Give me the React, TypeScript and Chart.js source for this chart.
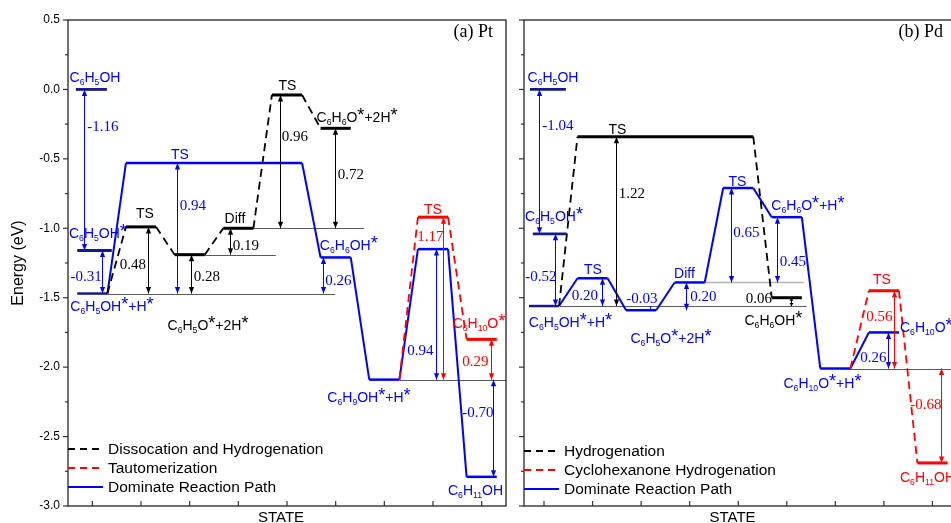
import React, { useEffect, useRef } from "react";
import { Chart, registerables } from "chart.js";

Chart.register(...registerables);

// ---------------- data ----------------
const STATES = [1, 2, 3, 4, 5, 6, 7, 8, 9];
const ENERGY_TICKS = [0.5, 0.0, -0.5, -1.0, -1.5, -2.0, -2.5, -3.0];
const ENERGY_MINOR = [0.25, -0.25, -0.75, -1.25, -1.75, -2.25, -2.75];

// (a) Pt
const ptMainFrom = [1, 2, 6, 7, 8, 9];
const ptMainTo = [1, 5, 6, 7, 8, 9];
const ptMainEnergy = [-1.47, -0.53, -1.21, -2.09, -1.15, -2.79];
const ptMainNames = ["C_6H_5OH^*+H^*", "TS", "C_6H_6OH^*", "C_6H_9OH^*+H^*", "", "C_6H_11OH"];

const ptSideStart = 0;
const ptSideFrom = [2, 3, 4, 5, 6];
const ptSideTo = [2, 3, 4, 5, 6];
const ptSideEnergy = [-0.99, -1.19, -1.0, -0.04, -0.28];
const ptSideNames = ["TS", "C_6H_5O^*+2H^*", "Diff", "TS", "C_6H_6O^*+2H^*"];

const ptAltStart = 3;
const ptAltFrom = [8, 9];
const ptAltTo = [8, 9];
const ptAltEnergy = [-0.92, -1.8];
const ptAltNames = ["TS", "C_6H_10O^*"];

const ptGasNames = ["C_6H_5OH", "C_6H_5OH^*"];
const ptGasEnergy = [0.0, -1.16];
const ptGasFrom = [0.66, 0.69];
const ptGasTo = [1.3, 1.4];

const ptGapText = ["-1.16", "-0.31", "0.48", "0.94", "0.28", "0.19", "0.96", "0.72", "0.26", "0.94", "1.17", "0.29", "-0.70"];
const ptGapFrom = [0.0, -1.16, -1.47, -1.47, -1.47, -1.19, -1.0, -1.0, -1.47, -2.09, -2.09, -1.8, -2.09];
const ptGapTo = [-1.16, -1.47, -0.99, -0.53, -1.19, -1.0, -0.04, -0.28, -1.21, -1.15, -0.92, -2.09, -2.79];
const ptGapState = [0.83, 1.2, 2.14, 2.74, 3.03, 3.83, 4.86, 5.99, 5.74, 8.06, 8.21, 9.19, 9.23];
const ptGapPath = ["main", "main", "side", "main", "side", "side", "side", "side", "main", "main", "alt", "alt", "main"];

const ptRefEnergy = [-1.47, -1.19, -1.0, -2.09];
const ptRefFrom = [1.31, 3.31, 4.31, 7.31];
const ptRefTo = [5.99, 4.77, 6.58, 9.5];
const ptRefLight = [false, false, false, false];

const ptLegend = ["Dissocation and Hydrogenation", "Tautomerization", "Dominate Reaction Path"];
const ptTitle = "(a) Pt";

// (b) Pd
const pdMainFrom = [1, 2, 3, 4, 5, 6, 7, 8];
const pdMainTo = [1, 2, 3, 4, 5, 6, 7, 8];
const pdMainEnergy = [-1.56, -1.36, -1.59, -1.39, -0.71, -0.92, -2.01, -1.75];
const pdMainNames = ["C_6H_5OH^*+H^*", "TS", "C_6H_5O^*+2H^*", "Diff", "TS", "C_6H_6O^*+H^*", "C_6H_10O^*+H^*", "C_6H_10O^*"];

const pdSideStart = 0;
const pdSideFrom = [2, 6];
const pdSideTo = [5, 6];
const pdSideEnergy = [-0.34, -1.5];
const pdSideNames = ["TS", "C_6H_6OH^*"];

const pdAltStart = 6;
const pdAltFrom = [8, 9];
const pdAltTo = [8, 9];
const pdAltEnergy = [-1.45, -2.69];
const pdAltNames = ["TS", "C_6H_11OH"];

const pdGasNames = ["C_6H_5OH", "C_6H_5OH^*"];
const pdGasEnergy = [0.0, -1.04];
const pdGasFrom = [0.71, 0.77];
const pdGasTo = [1.45, 1.47];

const pdGapText = ["-1.04", "-0.52", "0.20", "-0.03", "0.20", "1.22", "0.65", "0.45", "0.06", "0.26", "0.56", "-0.68"];
const pdGapFrom = [0.0, -1.04, -1.56, -1.56, -1.59, -1.56, -1.39, -1.39, -1.56, -2.01, -2.01, -2.01];
const pdGapTo = [-1.04, -1.56, -1.36, -1.59, -1.39, -0.34, -0.71, -0.92, -1.5, -1.75, -1.45, -2.69];
const pdGapState = [0.9, 1.23, 2.19, 3.18, 3.92, 2.48, 4.85, 5.8, 6.09, 8.08, 8.21, 9.18];
const pdGapPath = ["main", "main", "main", "main", "main", "side", "main", "main", "side", "main", "alt", "alt"];

const pdRefEnergy = [-1.56, -1.39, -2.01];
const pdRefFrom = [1.33, 4.31, 7.3];
const pdRefTo = [6.41, 6.35, 9.58];
const pdRefLight = [false, true, false];

const pdLegend = ["Hydrogenation", "Cyclohexanone Hydrogenation", "Dominate Reaction Path"];
const pdTitle = "(b) Pd";

// ---------------- layout (annotation placement, in axis units) ----------------
const ptLayout = {
  mainNameAt: [[1.404, -1.56], [2.8, -0.465], [6.27, -1.12], [6.685, -2.215], null, [8.873, -2.885]],
  sideNameAt: [[2.082, -0.89], [3.377, -1.696], [3.93, -0.926], [5.01, 0.032], [6.44, -0.199]],
  altNameAt: [[7.999, -0.861], [8.945, -1.682]],
  gasNameAt: [[1.055, 0.09], [1.116, -1.034]],
  gapAt: [[1.219, -0.271], [0.87, -1.351], [1.835, -1.264], [3.068, -0.839], [3.356, -1.351], [4.157, -1.128], [5.164, -0.343], [6.315, -0.616], [6.058, -1.38], [7.743, -1.884], [7.948, -1.063], [8.873, -1.963], [8.924, -2.33]],
};
const pdLayout = {
  mainNameAt: [[1.546, -1.675], [2.009, -1.293], [3.615, -1.79], [3.893, -1.322], [4.985, -0.659], [6.436, -0.832], [6.735, -2.114], [8.331, -1.711, "left"]],
  sideNameAt: [[2.513, -0.285], [5.726, -1.66]],
  altNameAt: [[7.96, -1.365], [8.331, -2.791, "left"]],
  gasNameAt: [[1.185, 0.09], [1.206, -0.911]],
  gapAt: [[1.288, -0.263], [0.938, -1.351], [1.844, -1.488], [3.018, -1.509], [4.284, -1.495], [2.812, -0.753], [5.17, -1.034], [6.128, -1.243], [5.427, -1.509], [7.785, -1.934], [7.909, -1.639], [8.866, -2.273]],
};

// ---------------- styles ----------------
const SANS = '"Liberation Sans", Arial, Helvetica, sans-serif';
const SERIF = '"Liberation Serif", "Times New Roman", Times, serif';
const BLUE = "#0000ff";
const NAVY = "#18188c";
const RED = "#ff0000";
const BLACK = "#000000";
const HW = 0.31;
const H = 523;

const PT_SPEC = {
  canvasLeft: 0, canvasW: 512, padRight: 6, yWidth: 68, xMin: 0.5, xMax: 9.5, showY: true,
  mainFrom: ptMainFrom, mainTo: ptMainTo, mainEnergy: ptMainEnergy, mainNames: ptMainNames,
  sideStart: ptSideStart, sideFrom: ptSideFrom, sideTo: ptSideTo, sideEnergy: ptSideEnergy, sideNames: ptSideNames,
  altStart: ptAltStart, altFrom: ptAltFrom, altTo: ptAltTo, altEnergy: ptAltEnergy, altNames: ptAltNames,
  gasNames: ptGasNames, gasEnergy: ptGasEnergy, gasFrom: ptGasFrom, gasTo: ptGasTo,
  gapText: ptGapText, gapFrom: ptGapFrom, gapTo: ptGapTo, gapState: ptGapState, gapPath: ptGapPath,
  refEnergy: ptRefEnergy, refFrom: ptRefFrom, refTo: ptRefTo, refLight: ptRefLight,
  legend: ptLegend, title: ptTitle, layout: ptLayout,
  legendTop: 57, titleInset: 13, stateDx: -6,
};
const PD_SPEC = {
  canvasLeft: 512, canvasW: 460, padRight: 11, yWidth: 12, xMin: 0.588, xMax: 9.588, showY: false,
  mainFrom: pdMainFrom, mainTo: pdMainTo, mainEnergy: pdMainEnergy, mainNames: pdMainNames,
  sideStart: pdSideStart, sideFrom: pdSideFrom, sideTo: pdSideTo, sideEnergy: pdSideEnergy, sideNames: pdSideNames,
  altStart: pdAltStart, altFrom: pdAltFrom, altTo: pdAltTo, altEnergy: pdAltEnergy, altNames: pdAltNames,
  gasNames: pdGasNames, gasEnergy: pdGasEnergy, gasFrom: pdGasFrom, gasTo: pdGasTo,
  gapText: pdGapText, gapFrom: pdGapFrom, gapTo: pdGapTo, gapState: pdGapState, gapPath: pdGapPath,
  refEnergy: pdRefEnergy, refFrom: pdRefFrom, refTo: pdRefTo, refLight: pdRefLight,
  legend: pdLegend, title: pdTitle, layout: pdLayout,
  legendTop: 55, titleInset: 18, stateDx: -10,
};

// ---------------- helpers ----------------
const isLevel = (c: any) => Math.abs(c.p0.parsed.y - c.p1.parsed.y) < 1e-9;

function levelPoints(from: number[], to: number[], e: number[]) {
  const pts: { x: number; y: number }[] = [];
  e.forEach((v, i) => {
    pts.push({ x: from[i] - HW, y: v }, { x: to[i] + HW, y: v });
  });
  return pts;
}

function pathColor(k: string) {
  return k === "side" ? BLACK : k === "alt" ? RED : BLUE;
}

function chemTokens(s: string) {
  const out: { t: string; k: string }[] = [];
  let i = 0;
  while (i < s.length) {
    const c = s[i];
    if (c === "_") {
      let j = i + 1;
      while (j < s.length && /\d/.test(s[j])) j++;
      out.push({ t: s.slice(i + 1, j), k: "sub" });
      i = j;
    } else if (c === "^") {
      out.push({ t: s[i + 1], k: "sup" });
      i += 2;
    } else {
      let j = i;
      while (j < s.length && s[j] !== "_" && s[j] !== "^") j++;
      out.push({ t: s.slice(i, j), k: "n" });
      i = j;
    }
  }
  return out;
}

function drawChem(ctx: CanvasRenderingContext2D, s: string, x: number, y: number, color: string, align?: string) {
  const size = 14;
  const fonts: any = { n: `${size}px ${SANS}`, sub: `${size * 0.62}px ${SANS}`, sup: `${size * 1.3}px ${SANS}` };
  const toks = chemTokens(s);
  let w = 0;
  const widths = toks.map((t) => {
    ctx.font = fonts[t.k];
    const m = ctx.measureText(t.t).width;
    w += m;
    return m;
  });
  let cx = align === "left" ? x : x - w / 2;
  const base = y + size * 0.36;
  ctx.fillStyle = color;
  ctx.textAlign = "left";
  ctx.textBaseline = "alphabetic";
  toks.forEach((t, i) => {
    ctx.font = fonts[t.k];
    const dy = t.k === "sub" ? 3 : t.k === "sup" ? -1 : 0;
    ctx.fillText(t.t, cx, base + dy);
    cx += widths[i];
  });
}

function drawHead(ctx: CanvasRenderingContext2D, x: number, tip: number, dir: number, L: number, W: number) {
  ctx.beginPath();
  ctx.moveTo(x, tip);
  ctx.lineTo(x - W, tip - dir * L);
  ctx.lineTo(x + W, tip - dir * L);
  ctx.closePath();
  ctx.fill();
}

function drawArrow(ctx: CanvasRenderingContext2D, x: number, y0: number, y1: number, color: string) {
  const xx = Math.round(x) + 0.5;
  ctx.strokeStyle = color;
  ctx.fillStyle = color;
  ctx.lineWidth = 1;
  ctx.setLineDash([]);
  ctx.beginPath();
  ctx.moveTo(xx, y0);
  ctx.lineTo(xx, y1);
  ctx.stroke();
  const d = Math.abs(y1 - y0);
  if (d < 6) return;
  const dir = Math.sign(y1 - y0);
  const L = d < 16 ? 3 : 6.5;
  const W = d < 16 ? 2 : 2.6;
  drawHead(ctx, xx, y1, dir, L, W);
  drawHead(ctx, xx, y0, -dir, L, W);
}

function makePlugin(p: any) {
  return {
    id: "energyDiagram",
    beforeDatasetsDraw(chart: any) {
      const { ctx } = chart;
      const xs = chart.scales.x;
      const ys = chart.scales.y;
      ctx.save();
      p.refEnergy.forEach((e: number, i: number) => {
        ctx.strokeStyle = p.refLight[i] ? "#b4b4b4" : "#5a5a5a";
        ctx.lineWidth = p.refLight[i] ? 1.6 : 1;
        const yy = Math.round(ys.getPixelForValue(e)) + 0.5;
        ctx.beginPath();
        ctx.moveTo(xs.getPixelForValue(p.refFrom[i]), yy);
        ctx.lineTo(xs.getPixelForValue(p.refTo[i]), yy);
        ctx.stroke();
      });
      ctx.restore();
    },
    afterDatasetsDraw(chart: any) {
      const { ctx, chartArea: a } = chart;
      const xs = chart.scales.x;
      const ys = chart.scales.y;
      const L = p.layout;
      ctx.save();
      // frame
      ctx.setLineDash([]);
      ctx.strokeStyle = "#333";
      ctx.lineWidth = 1.4;
      ctx.strokeRect(a.left, a.top, a.right - a.left, a.bottom - a.top);
      // ticks
      ctx.lineWidth = 1.2;
      const tick = (x0: number, y0: number, x1: number, y1: number) => {
        ctx.beginPath();
        ctx.moveTo(x0, y0);
        ctx.lineTo(x1, y1);
        ctx.stroke();
      };
      ENERGY_TICKS.forEach((v) => {
        const yy = ys.getPixelForValue(v);
        tick(a.left - 5, yy, a.left, yy);
      });
      ENERGY_MINOR.forEach((v) => {
        const yy = ys.getPixelForValue(v);
        tick(a.left - 3, yy, a.left, yy);
      });
      STATES.forEach((s) => {
        const xx = xs.getPixelForValue(s);
        tick(xx, a.bottom, xx, a.bottom - 5);
      });
      // energy gap arrows + values
      p.gapText.forEach((t: string, i: number) => {
        const col = pathColor(p.gapPath[i]);
        drawArrow(ctx, xs.getPixelForValue(p.gapState[i]), ys.getPixelForValue(p.gapFrom[i]), ys.getPixelForValue(p.gapTo[i]), col);
        const at = L.gapAt[i];
        ctx.font = `15px ${SERIF}`;
        ctx.fillStyle = col;
        ctx.textAlign = "center";
        ctx.textBaseline = "middle";
        ctx.fillText(t, xs.getPixelForValue(at[0]), ys.getPixelForValue(at[1]));
      });
      // species names
      const names = (list: string[], at: any[], color: string) => {
        list.forEach((n, i) => {
          const pos = at[i];
          if (!n || !pos) return;
          drawChem(ctx, n, xs.getPixelForValue(pos[0]), ys.getPixelForValue(pos[1]), color, pos[2]);
        });
      };
      names(p.gasNames, L.gasNameAt, BLUE);
      names(p.mainNames, L.mainNameAt, BLUE);
      names(p.sideNames, L.sideNameAt, BLACK);
      names(p.altNames, L.altNameAt, RED);
      // legend
      const legendStyles = [
        { c: BLACK, d: [7, 5] },
        { c: RED, d: [7, 5] },
        { c: BLUE, d: [] },
      ];
      p.legend.forEach((t: string, i: number) => {
        const yy = a.bottom - p.legendTop + 19 * i;
        ctx.strokeStyle = legendStyles[i].c;
        ctx.lineWidth = 2;
        ctx.setLineDash(legendStyles[i].d);
        ctx.beginPath();
        ctx.moveTo(a.left, yy);
        ctx.lineTo(a.left + 35, yy);
        ctx.stroke();
        ctx.setLineDash([]);
        ctx.font = `15.5px ${SANS}`;
        ctx.fillStyle = "#000";
        ctx.textAlign = "left";
        ctx.textBaseline = "middle";
        ctx.fillText(t, a.left + 40, yy + 1);
      });
      // panel title
      ctx.font = `18px ${SERIF}`;
      ctx.fillStyle = "#000";
      ctx.textAlign = "right";
      ctx.textBaseline = "alphabetic";
      ctx.fillText(p.title, a.right - p.titleInset, 37);
      // x axis title
      ctx.font = `15px ${SANS}`;
      ctx.textAlign = "center";
      ctx.fillText("STATE", (a.left + a.right) / 2 + p.stateDx, 522);
      ctx.restore();
    },
  };
}

function buildConfig(p: any): any {
  const branch = (from: number[], to: number[], e: number[], start: number, color: string, order: number, label: string) => ({
    label,
    order,
    data: [{ x: p.mainTo[start] + HW, y: p.mainEnergy[start] }, ...levelPoints(from, to, e)],
    borderColor: color,
    borderWidth: 2,
    pointRadius: 0,
    tension: 0,
    fill: false,
    segment: {
      borderDash: (c: any) => (isLevel(c) ? [] : [8, 5]),
      borderWidth: (c: any) => (isLevel(c) ? 3 : 1.8),
    },
  });
  const datasets: any[] = [
    branch(p.sideFrom, p.sideTo, p.sideEnergy, p.sideStart, BLACK, 1, p.legend[0]),
    branch(p.altFrom, p.altTo, p.altEnergy, p.altStart, RED, 2, p.legend[1]),
    {
      label: p.legend[2],
      order: 3,
      data: levelPoints(p.mainFrom, p.mainTo, p.mainEnergy),
      borderColor: BLUE,
      borderWidth: 2.2,
      pointRadius: 0,
      tension: 0,
      fill: false,
      segment: {
        borderColor: (c: any) => (c.p0DataIndex === 0 ? NAVY : BLUE),
        borderWidth: (c: any) => (isLevel(c) ? 2.5 : 2),
      },
    },
  ];
  p.gasEnergy.forEach((e: number, i: number) => {
    datasets.push({
      label: p.gasNames[i],
      order: 4,
      data: [{ x: p.gasFrom[i], y: e }, { x: p.gasTo[i], y: e }],
      borderColor: NAVY,
      borderWidth: 2.8,
      pointRadius: 0,
      fill: false,
    });
  });
  return {
    type: "line",
    data: { datasets },
    options: {
      animation: false,
      responsive: false,
      devicePixelRatio: 1,
      layout: { padding: { top: 20, right: p.padRight, left: 0, bottom: 0 } },
      plugins: { legend: { display: false }, tooltip: { enabled: false }, title: { display: false } },
      elements: { point: { radius: 0 } },
      scales: {
        x: {
          type: "linear",
          min: p.xMin,
          max: p.xMax,
          grid: { display: false, drawTicks: false },
          border: { display: false },
          ticks: { display: false },
          afterFit: (s: any) => {
            s.height = 17;
          },
        },
        y: {
          type: "linear",
          min: -3,
          max: 0.5,
          afterBuildTicks: (s: any) => {
            s.ticks = ENERGY_TICKS.map((v) => ({ value: v }));
          },
          ticks: {
            display: p.showY,
            callback: (v: any) => Number(v).toFixed(1),
            font: { family: SANS, size: 12 },
            color: "#000",
            padding: 8,
          },
          grid: { display: false, drawTicks: false },
          border: { display: false },
          title: {
            display: p.showY,
            text: "Energy (eV)",
            font: { family: SANS, size: 16 },
            color: "#000",
            padding: { top: 9, bottom: 0 },
          },
          afterFit: (s: any) => {
            s.width = p.yWidth;
          },
        },
      },
    },
    plugins: [makePlugin(p)],
  };
}

function Panel({ spec }: { spec: any }) {
  const ref = useRef<HTMLCanvasElement>(null);
  useEffect(() => {
    if (!ref.current) return;
    const chart = new Chart(ref.current, buildConfig(spec));
    return () => chart.destroy();
  }, [spec]);
  return (
    <canvas
      ref={ref}
      width={spec.canvasW}
      height={H}
      style={{ position: "absolute", left: spec.canvasLeft, top: 0, width: spec.canvasW, height: H }}
    />
  );
}

export default function App() {
  return (
    <div
      style={{
        position: "fixed",
        left: 0,
        top: 0,
        width: 951,
        height: H,
        overflow: "hidden",
        background: "#fff",
      }}
    >
      <Panel spec={PT_SPEC} />
      <Panel spec={PD_SPEC} />
    </div>
  );
}
